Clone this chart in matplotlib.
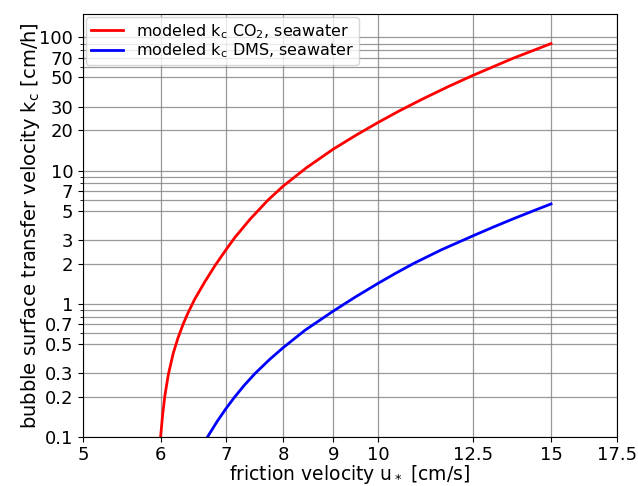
import matplotlib
matplotlib.use('Agg')
import matplotlib.pyplot as plt
import numpy

# modeled k_c CO2, seawater
u_co2 = [6.0, 6.03, 6.06, 6.11, 6.18, 6.25, 6.33, 6.40, 6.50, 6.66, 6.82, 7.0, 7.14, 7.4, 7.72,
         8.0, 8.45, 9.0, 9.5, 10.0, 10.5, 11.1, 11.8, 12.5, 13.7, 15.0]
kc_co2 = [0.1, 0.149, 0.203, 0.294, 0.423, 0.553, 0.710, 0.855, 1.08, 1.47, 1.94, 2.56, 3.13, 4.30, 6.0,
          7.64, 10.5, 14.5, 18.5, 23.0, 28.0, 34.5, 42.9, 52.0, 69.4, 89.9]

# modeled k_c DMS, seawater
u_dms = [6.70, 6.85, 7.0, 7.14, 7.3, 7.49, 7.75, 8.0, 8.42, 9.0, 9.47, 10.0, 10.4, 10.86,
         11.6, 12.5, 13.1, 13.73, 14.4, 15.0]
kc_dms = [0.1, 0.130, 0.164, 0.199, 0.243, 0.299, 0.381, 0.467, 0.631, 0.880, 1.118, 1.423, 1.68, 2.00,
          2.54, 3.24, 3.76, 4.34, 4.99, 5.61]

xticks = [5, 6, 7, 8, 9, 10, 12.5, 15, 17.5]
xlabels = ['5', '6', '7', '8', '9', '10', '12.5', '15', '17.5']
yticks = [0.1, 0.2, 0.3, 0.5, 0.7, 1, 2, 3, 5, 7, 10, 20, 30, 50, 70, 100]
ylabels = ['0.1', '0.2', '0.3', '0.5', '0.7', '1', '2', '3', '5', '7', '10', '20', '30', '50', '70', '100']
yminor = [0.6, 0.8, 0.9, 6, 8, 9, 60, 80, 90]

fig = plt.figure(figsize=(6.38, 4.86), dpi=100)
ax = fig.add_axes([0.130, 0.1014, 0.8366, 0.8698])

ax.plot(u_co2, kc_co2, '-', color='red', linewidth=2, label=r'modeled k$_\mathrm{c}$ CO$_2$, seawater')
ax.plot(u_dms, kc_dms, '-', color='blue', linewidth=2, label=r'modeled k$_\mathrm{c}$ DMS, seawater')

ax.set_xscale('log')
ax.set_yscale('log')
ax.set_xlim(5, 17.5)
ax.set_ylim(0.1, 150)

ax.set_xticks(xticks)
ax.set_xticklabels(xlabels)
ax.set_xticks([], minor=True)
ax.set_yticks(yticks)
ax.set_yticklabels(ylabels)
ax.set_yticks(yminor, minor=True)
ax.set_yticklabels([], minor=True)
ax.tick_params(axis='both', which='major', labelsize=13)

ax.grid(True, which='both', color='gray', linewidth=0.9, alpha=0.8)
ax.set_axisbelow(True)

ax.set_xlabel('friction velocity u$_*$ [cm/s]', fontsize=13.5, labelpad=-1)
ax.set_ylabel(r'bubble surface transfer velocity k$_\mathrm{c}$ [cm/h]', fontsize=14, labelpad=-2)
ax.legend(loc='upper left', fontsize=11.5, borderaxespad=0.2, labelspacing=0.05, borderpad=0.3)

fig.savefig('out.png', dpi=100)
